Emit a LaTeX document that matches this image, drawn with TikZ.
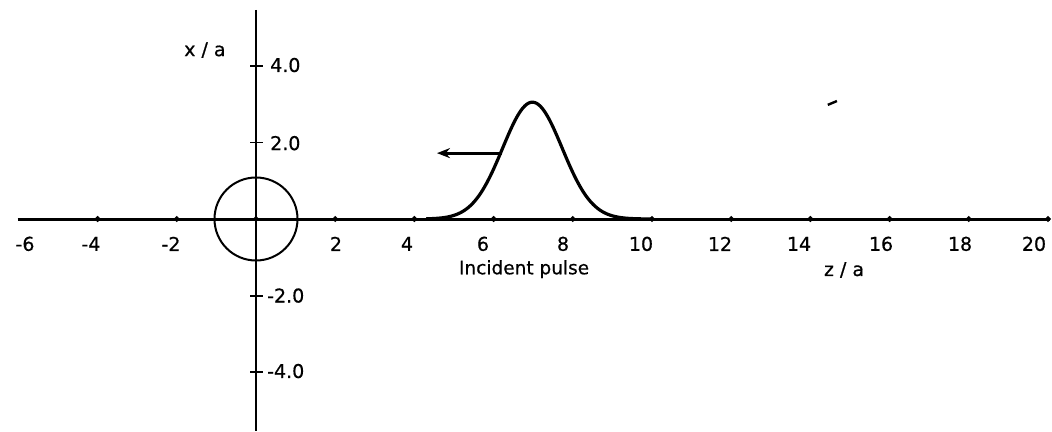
\documentclass[tikz,border=0pt]{standalone}
\usepackage{fontspec}
\setmainfont[FakeBold=0.6]{DejaVu Sans}
\usetikzlibrary{arrows.meta,shapes.geometric}
\begin{document}
\begin{tikzpicture}[x=39.6pt,y=38.3pt,
  axisline/.style={line width=3pt},
  vaxis/.style={line width=2.2pt},
  ticklbl/.style={inner sep=0pt,font=\fontsize{19}{19}\selectfont},
  txtlbl/.style={inner sep=0pt,font=\fontsize{18.5}{18.5}\selectfont},
  dotmark/.style={fill=black,inner sep=0pt,minimum size=6.5pt,diamond},
]
\useasboundingbox (-6.4646,-5.5352) rectangle (20.1010,5.7180);
% axes
\coordinate (hl) at (-6.02,0);
\coordinate (hr) at (20.05,0);
\coordinate (vt) at (0,5.46);
\coordinate (vb) at (0,-5.54);
\draw[axisline] (hl) -- (hr);
\draw[vaxis] (vt) -- (vb);
% horizontal ticks
\foreach \k in {-4,-2,0,2,4,6,8,10,12,14,16,18,20}{
  \node[dotmark] (t\k) at (\k,0) {};
}
% vertical ticks
\foreach \k in {-4,-2,2,4}{
  \draw[line width=1.8pt] (-0.15,\k) -- (0.17,\k);
}
% circle
\node[draw,line width=2pt,circle,minimum size=83pt,inner sep=0pt] (sphere) at (0,0) {};
% pulse
\draw[line width=3.2pt,line join=round] plot[domain=4.3:10,samples=120,smooth] (\x,{3.05*exp(-(\x-6.98)^2/(2*0.752^2))});
\coordinate (as) at (6.2,1.72);
\coordinate (ae) at (4.57,1.72);
\draw[line width=2.8pt,-{Stealth[length=13pt,width=10pt]}] (as) -- (ae);
% stray mark
\coordinate (m1) at (14.44,2.98);
\coordinate (m2) at (14.67,3.08);
\draw[line width=2.4pt] (m1) -- (m2);
% horizontal labels
\node[ticklbl] (l-6) at (-5.833,-0.65) {-6};
\node[ticklbl] (l-4) at (-4.167,-0.65) {-4};
\node[ticklbl] (l-2) at (-2.146,-0.65) {-2};
\node[ticklbl] (l2) at (2.020,-0.65) {2};
\node[ticklbl] (l4) at (3.813,-0.65) {4};
\node[ticklbl] (l6) at (5.732,-0.65) {6};
\node[ticklbl] (l8) at (7.753,-0.65) {8};
\node[ticklbl] (l10) at (9.722,-0.65) {10};
\node[ticklbl] (l12) at (11.717,-0.65) {12};
\node[ticklbl] (l14) at (13.712,-0.65) {14};
\node[ticklbl] (l16) at (15.783,-0.65) {16};
\node[ticklbl] (l18) at (17.778,-0.65) {18};
\node[ticklbl] (l20) at (19.646,-0.65) {20};
% vertical labels
\node[ticklbl,anchor=west] (v4) at (0.354,4.02) {4.0};
\node[ticklbl,anchor=west] (v2) at (0.354,1.98) {2.0};
\node[ticklbl,anchor=west] (vm2) at (0.278,-2.0) {-2.0};
\node[ticklbl,anchor=west] (vm4) at (0.278,-3.97) {-4.0};
% axis titles
\node[ticklbl] (xa) at (-1.29,4.41) {x / a};
\node[ticklbl] (za) at (14.85,-1.33) {z / a};
\node[txtlbl] (ip) at (6.77,-1.31) {Incident pulse};
\end{tikzpicture}
\end{document}
